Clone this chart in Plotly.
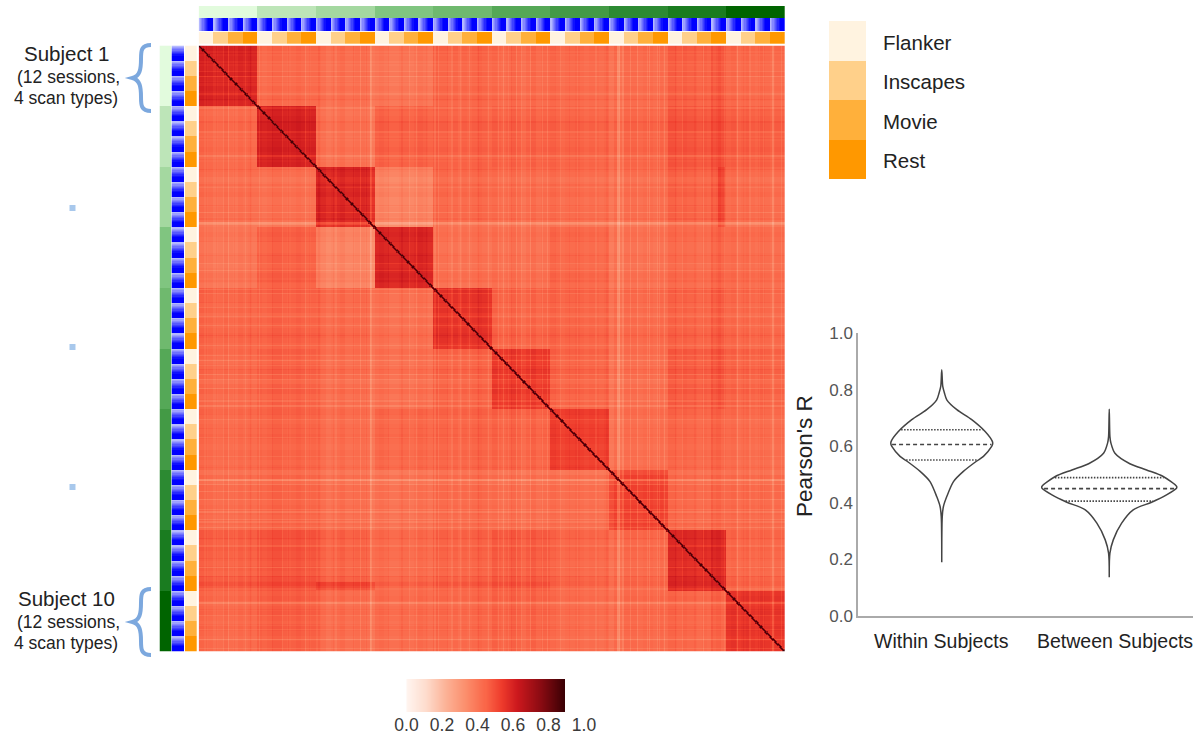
import numpy as np
import plotly.graph_objects as go

W, H = 1204, 737

# ---------- data ----------
SUBJECT_COLORS = ["#e2fbdd", "#bde5b8", "#a4d8a0", "#80c580", "#6fb96e",
                  "#55a857", "#439a45", "#2c8a32", "#1a7c20", "#006400"]
SESSION_LIGHT, SESSION_DARK = "#b4b8ff", "#0000ff"
SCAN_NAMES = ["Flanker", "Inscapes", "Movie", "Rest"]
SCAN_COLORS = ["#fff3e0", "#ffd08a", "#ffb03b", "#ff9800"]

BLOCKS = [
    [.58, .43, .42, .40, .44, .43, .43, .43, .45, .43],
    [.43, .60, .42, .455, .455, .455, .45, .45, .48, .46],
    [.42, .42, .59, .37, .44, .43, .43, .43, .45, .43],
    [.40, .455, .37, .59, .42, .42, .44, .42, .43, .43],
    [.44, .455, .44, .42, .56, .45, .45, .44, .45, .44],
    [.43, .455, .43, .42, .45, .54, .45, .43, .465, .45],
    [.43, .45, .43, .44, .45, .45, .53, .43, .44, .43],
    [.43, .45, .43, .42, .44, .43, .43, .53, .44, .44],
    [.45, .48, .45, .43, .45, .465, .44, .44, .57, .44],
    [.43, .46, .43, .43, .44, .45, .43, .44, .44, .55],
]
# offset per session-block (12 per subject)
ROW_OFFSETS = [
    .02, .00, .01, -.01, .00, .01, .00, -.01, .01, .00, .01, .00,
    .00, -.01, .00, .01, .01, .00, -.01, .00, .01, .00, -.01, .00,
    .01, .00, -.02, -.01, .00, .01, -.01, -.01, .00, .00, -.01, -.03,
    .00, .01, .00, -.01, -.01, .00, .00, -.01, .00, .01, .00, -.01,
    .01, .00, .00, -.01, .00, -.02, .00, -.01, .00, .01, .00, -.01,
    .01, .00, -.01, .00, .01, .00, -.02, .00, .01, -.01, .00, .00,
    .01, .00, -.01, .00, .00, .01, .00, -.01, .00, .00, -.01, .00,
    -.03, .00, -.02, .00, .00, .00, -.01, .00, .00, -.01, .00, -.01,
    .01, .01, .00, .01, .00, .00, -.01, .00, -.01, .01, .02, .00,
    .00, .01, -.01, .00, .01, .00, -.01, .01, .00, -.01, .00, .00,
]
# thin pale lines: index out of 480, drop in R
PALE_LINES = [20, 24, 38, 49, 68, 87, 112, 132, 140, 141, 172, 178, 193, 196, 207, 214, 221, 237,
              245, 249, 253, 260, 264, 271, 281, 285, 296, 310, 325, 343, 344, 347, 353, 359,
              367, 369, 375, 377, 381, 396, 413, 430, 441, 451, 462, 470, 477]
PALE_DROP = [.04, .05, .03, .04, .03, .05, .03, .05, .07, .05, .03, .04, .04, .04, .03, .03, .04, .04,
             .04, .05, .03, .05, .03, .05, .04, .05, .03, .03, .03, .09, .09, .04, .05, .06,
             .04, .05, .04, .04, .05, .04, .05, .03, .06, .04, .03, .06, .04]
# thin darker lines: index out of 480, lift in R
DARK_LINES = [6, 14, 29, 42, 60, 73, 90, 98, 110, 126, 137, 155, 166, 186, 203, 229, 256, 292, 303, 334, 390, 406, 420, 446, 458]
DARK_LIFT = [.02, .02, .02, .02, .015, .02, .015, .02, .02, .025, .025, .015, .02, .015, .015, .02, .015, .015, .015, .015, .02, .015, .02, .015, .015]
SUBJECT3_BAND = (425, 431)   # darker band against subject 3
BAND_LIFT = (.06, .015)

BAR_TICKS = [0.0, 0.2, 0.4, 0.6, 0.8, 1.0]
BAR_TOP = 0.89
RED_STOPS = [(0, "#fff5f0"), (.125, "#fedccd"), (.25, "#fcb297"), (.375, "#fb8f6d"),
             (.5, "#fa6648"), (.6, "#ee3b2c"), (.7, "#cc181d"), (.85, "#8a0b12"),
             (1, "#3b0004")]

VIOLIN_NAMES = ["Within Subjects", "Between Subjects"]
WITHIN_R = [.870, .811, .788, .764, .729, .694, .652, .617, .608, .599, .564, .546,
            .511, .475, .422, .387, .351, .190]
WITHIN_W = [0, .006, .016, .030, .090, .179, .259, .302, .304, .298, .249, .205,
            .129, .070, .030, .010, .003, 0]
BETWEEN_R = [.731, .634, .611, .575, .538, .516, .493, .458, .452, .428, .402,
             .375, .328, .269, .222, .137]
BETWEEN_W = [0, .004, .010, .034, .123, .223, .322, .402, .402, .342, .253,
             .143, .074, .024, .004, 0]
WITHIN_Q = [.551, .606, .658]
BETWEEN_Q = [.406, .450, .489]
VIOLIN_TICKS = [0.0, 0.2, 0.4, 0.6, 0.8, 1.0]

# ---------- build matrix ----------
N = 480
blocks = np.array(BLOCKS)
subj = np.arange(N) // 48
off = np.array(ROW_OFFSETS)[np.arange(N) // 4]
fine = np.zeros(N)
fine[PALE_LINES] = -np.array(PALE_DROP)
fine[DARK_LINES] = DARK_LIFT
stripe = off + fine
Z = blocks[subj[:, None], subj[None, :]] + stripe[:, None] + stripe[None, :]
a, b = SUBJECT3_BAND
Z[a:b, :288] += BAND_LIFT[1]
Z[:288, a:b] += BAND_LIFT[1]
Z[a:b, 96:144] += BAND_LIFT[0] - BAND_LIFT[1]
Z[96:144, a:b] += BAND_LIFT[0] - BAND_LIFT[1]
Z = np.round(Z, 3)
for i in range(N):
    Z[i, i] = 0.88
    if i + 1 < N:
        Z[i, i + 1] = Z[i + 1, i] = 0.74

# ---------- helpers ----------
def dx(x0, x1):
    return [x0 / W, x1 / W]

def dy(y0, y1):
    return [1 - y1 / H, 1 - y0 / H]

def steps(colors):
    n = len(colors)
    out = []
    for k, c in enumerate(colors):
        out += [[k / n, c], [(k + 1) / n, c]]
    return out

fig = go.Figure()
layout = {}
axis_no = [0]

def add_axes(xdom, ydom, xrange_, yrange_):
    axis_no[0] += 1
    n = axis_no[0]
    s = "" if n == 1 else str(n)
    base = dict(showgrid=False, zeroline=False, showline=False, showticklabels=False, ticks="", fixedrange=True)
    layout["xaxis" + s] = {**base, "domain": xdom, "range": xrange_, "anchor": "y" + s}
    layout["yaxis" + s] = {**base, "domain": ydom, "range": yrange_, "anchor": "x" + s}
    return "x" + s, "y" + s

MX0, MX1, MY0, MY1 = 198.7, 785, 45.5, 651.5

# main matrix
xa, ya = add_axes(dx(MX0, MX1), dy(MY0, MY1), [0, N], [N, 0])
cells = np.arange(N) + 0.5
fig.add_trace(go.Heatmap(z=Z, x=cells, y=cells, zmin=0, zmax=BAR_TOP, colorscale=[list(s) for s in RED_STOPS],
                         showscale=False, hoverinfo="skip", xaxis=xa, yaxis=ya))

sessions = np.arange(N) % 12
scans = (np.arange(40)) % 4
subjects = np.arange(10)
blue_scale = [[0, SESSION_LIGHT], [.7, SESSION_DARK], [1, SESSION_DARK]]

# top strips
for (y0, y1, z, cs, zmax) in [(6, 18, subjects, steps(SUBJECT_COLORS), 10),
                              (18, 31, sessions, blue_scale, 11),
                              (31.7, 44, scans, steps(SCAN_COLORS), 4)]:
    xa, ya = add_axes(dx(MX0, MX1), dy(y0, y1), [0, len(z)], [0, 1])
    zz = z + 0.5 if zmax != 11 else z
    fig.add_trace(go.Heatmap(z=[zz.tolist()], x=(np.arange(len(z)) + .5).tolist(), y=[.5], zmin=0, zmax=zmax,
                             colorscale=cs, showscale=False, hoverinfo="skip", xaxis=xa, yaxis=ya))
# left strips
for (x0, x1, z, cs, zmax) in [(159.5, 171.5, subjects, steps(SUBJECT_COLORS), 10),
                              (171.5, 184, sessions, blue_scale, 11),
                              (185, 196.7, scans, steps(SCAN_COLORS), 4)]:
    xa, ya = add_axes(dx(x0, x1), dy(MY0, MY1), [0, 1], [len(z), 0])
    zz = z + 0.5 if zmax != 11 else z
    fig.add_trace(go.Heatmap(z=[[v] for v in zz.tolist()], y=(np.arange(len(z)) + .5).tolist(), x=[.5], zmin=0, zmax=zmax,
                             colorscale=cs, showscale=False, hoverinfo="skip", xaxis=xa, yaxis=ya))

# legend swatches
xa, ya = add_axes(dx(829, 866), dy(21, 179), [0, 1], [4, 0])
fig.add_trace(go.Heatmap(z=[[k + .5] for k in range(4)], y=[.5, 1.5, 2.5, 3.5], x=[.5], zmin=0, zmax=4,
                         colorscale=steps(SCAN_COLORS), showscale=False, hoverinfo="skip", xaxis=xa, yaxis=ya))

# colour bar
xa, ya = add_axes(dx(406.5, 584), dy(679, 712), [0, 1], [0, 1])
bar_x = np.linspace(0, BAR_TOP, 158)
fig.add_trace(go.Heatmap(z=[bar_x.tolist()], x=bar_x.tolist(), y=[.5], zmin=0, zmax=BAR_TOP,
                         colorscale=[list(s) for s in RED_STOPS], showscale=False, hoverinfo="skip", xaxis=xa, yaxis=ya))
layout["xaxis" + xa[1:]].update(showticklabels=True, tickvals=BAR_TICKS, ticktext=[f"{t:.1f}" for t in BAR_TICKS],
                                tickfont=dict(size=17.5, color="#3a3a3a"))

# violins
xa, ya = add_axes(dx(858, 1193), dy(333, 616), [-.5, 1.5], [0, 1])
layout["yaxis" + ya[1:]].update(showline=True, linecolor="#aaaaaa", linewidth=1.5, showticklabels=True,
                                tickvals=VIOLIN_TICKS, ticktext=[f"{t:.1f}" for t in VIOLIN_TICKS],
                                tickfont=dict(size=17, color="#555555"))
layout["xaxis" + xa[1:]].update(showline=True, linecolor="#aaaaaa", linewidth=1.5)
for pos, rs, ws, qs in [(0, WITHIN_R, WITHIN_W, WITHIN_Q), (1, BETWEEN_R, BETWEEN_W, BETWEEN_Q)]:
    rs, ws = np.array(rs), np.array(ws)
    xs = np.concatenate([pos + ws, (pos - ws)[::-1]])
    ys = np.concatenate([rs, rs[::-1]])
    fig.add_trace(go.Scatter(x=xs, y=ys, mode="lines", line=dict(color="#444444", width=1.5, shape="spline", smoothing=.8),
                             hoverinfo="skip", showlegend=False, xaxis=xa, yaxis=ya))
    for k, q in enumerate(qs):
        hw = np.interp(q, rs[::-1], ws[::-1]) * .98
        fig.add_trace(go.Scatter(x=[pos - hw, pos + hw], y=[q, q], mode="lines",
                                 line=dict(color="#444444", width=1.6, dash="4px,3px" if k == 1 else "1.5px,1.5px"),
                                 hoverinfo="skip", showlegend=False, xaxis=xa, yaxis=ya))

# ---------- text ----------
FONT = "Liberation Sans, Arial, sans-serif"
def text(x, y, s, size, color="#222222", anchor="center", angle=0):
    return dict(x=x / W, y=1 - y / H, xref="paper", yref="paper", text=s, showarrow=False, xanchor=anchor,
                yanchor="middle", textangle=angle, font=dict(size=size, color=color, family=FONT))

anns = [
    text(66, 53, "Subject 1", 20.5), text(68, 77, "(12 sessions,", 17.5), text(66, 98, "4 scan types)", 17.5),
    text(66, 598, "Subject 10", 20.5), text(68, 622, "(12 sessions,", 17.5), text(66, 643, "4 scan types)", 17.5),
    text(805, 456, "Pearson's R", 22.5, angle=-90),
    text(941, 641, VIOLIN_NAMES[0], 19.5), text(1115, 641, VIOLIN_NAMES[1], 19.5),
]
for name, y in zip(SCAN_NAMES, [43, 81, 121, 160]):
    anns.append(text(881, y, name, 20.5, anchor="left"))

# ---------- braces and dots ----------
def P(x, y):
    return f"{x / W:.5f},{1 - y / H:.5f}"

def brace(top):
    mid = top + 33
    bot = top + 66
    return (f"M {P(151, top)} C {P(141, top)} {P(141, top + 6)} {P(141, top + 14)} "
            f"C {P(141, top + 24)} {P(140, mid - 2)} {P(132.5, mid)} "
            f"C {P(140, mid + 2)} {P(141, bot - 24)} {P(141, bot - 14)} "
            f"C {P(141, bot - 6)} {P(141, bot)} {P(151, bot)}")

shapes = [dict(type="path", path=brace(t), xref="paper", yref="paper", line=dict(color="#7ca8de", width=4))
          for t in (45, 589)]
for y in (208, 347, 487):
    shapes.append(dict(type="rect", xref="paper", yref="paper", x0=69.5 / W, x1=75.5 / W, y0=1 - (y + 3) / H,
                       y1=1 - (y - 3) / H, fillcolor="#a8c8ec", line=dict(width=0)))

fig.update_layout(width=W, height=H, margin=dict(l=0, r=0, t=0, b=0, autoexpand=False), paper_bgcolor="white", plot_bgcolor="white",
                  showlegend=False, annotations=anns, shapes=shapes, font=dict(family=FONT), **layout)
fig.write_html("out.html", post_script="document.body.style.margin='0';", config={"displayModeBar": False})
